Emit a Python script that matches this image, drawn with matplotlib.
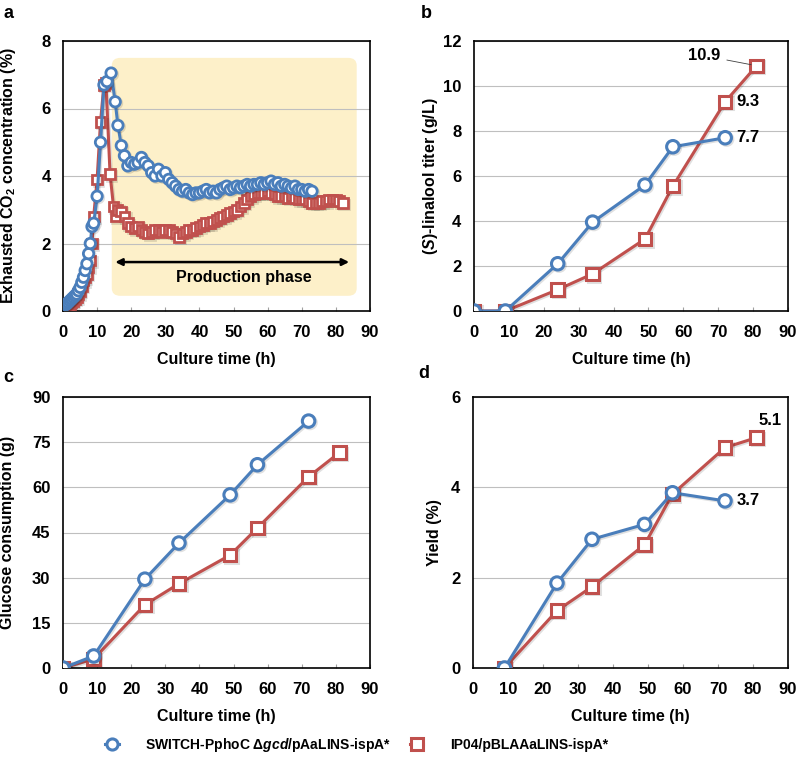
import matplotlib
matplotlib.use('Agg')
import matplotlib.pyplot as plt
import matplotlib.patheffects as pe
from matplotlib.patches import FancyBboxPatch
from matplotlib.lines import Line2D

plt.rcParams['font.family'] = ['Liberation Sans', 'DejaVu Sans']
plt.rcParams['font.weight'] = 'bold'
plt.rcParams['mathtext.fontset'] = 'custom'
plt.rcParams['mathtext.rm'] = 'Liberation Sans:bold'
plt.rcParams['mathtext.it'] = 'Liberation Sans:bold:italic'
plt.rcParams['mathtext.bf'] = 'Liberation Sans:bold'

BLUE = '#4A7EBB'
RED = '#C0504D'

# panel a: exhausted CO2 (%)
co2_t_blue = [0, 0.5, 1, 1.5, 2, 2.5, 3, 3.5, 4, 4.5, 5, 5.5, 6, 6.5, 7, 7.5, 8, 8.5, 9, 10, 11, 12, 12.9,
              14.1, 15.3, 16.1, 17.1, 18, 19, 20, 21, 22, 23, 24, 25, 26, 27, 28, 29, 30, 31, 32, 33, 34, 35,
              36, 37, 38, 39, 40, 41, 42, 43, 44, 45, 46, 47, 48, 49, 50, 51, 52, 53, 54, 55, 56, 57,
              58, 59, 60, 61, 62, 63, 64, 65, 66, 67, 68, 69, 70, 71, 72, 73]
co2_blue = [0.15, 0.18, 0.2, 0.25, 0.3, 0.35, 0.4, 0.45, 0.5, 0.6, 0.7, 0.85, 1.0, 1.2, 1.4, 1.7, 2.0, 2.5, 2.6, 3.4, 5.0, 6.7, 6.8,
            7.05, 6.2, 5.5, 4.9, 4.6, 4.3, 4.4, 4.35, 4.4, 4.55, 4.4, 4.3, 4.1, 4.0, 4.2, 4.0, 4.1, 3.9, 3.8, 3.7, 3.6, 3.55,
            3.6, 3.5, 3.45, 3.5, 3.5, 3.55, 3.6, 3.5, 3.55, 3.5, 3.6, 3.65, 3.7, 3.6, 3.65, 3.7, 3.65, 3.7, 3.75, 3.7, 3.75, 3.75,
            3.8, 3.75, 3.8, 3.85, 3.75, 3.8, 3.7, 3.75, 3.7, 3.65, 3.7, 3.6, 3.6, 3.55, 3.6, 3.55]
co2_t_red = [0, 0.5, 1, 1.5, 2, 2.5, 3, 3.5, 4, 4.5, 5, 5.5, 6, 6.5, 7, 7.5, 8, 8.5, 9, 10, 11, 12, 12.6,
             13.8, 14.8, 15.5, 16, 17, 18, 19, 20, 21, 22, 23, 24, 25, 26, 27, 28, 29, 30, 31, 32, 33, 34, 35,
             36, 37, 38, 39, 40, 41, 42, 43, 44, 45, 46, 47, 48, 49, 50, 51, 52, 53, 54, 55, 56, 57,
             58, 59, 60, 61, 62, 63, 64, 65, 66, 67, 68, 69, 70, 71, 72, 73, 74, 75, 76, 77, 78, 79, 80, 81, 82]
co2_red = [0.1, 0.12, 0.15, 0.18, 0.2, 0.25, 0.3, 0.35, 0.4, 0.5, 0.6, 0.75, 0.9, 1.0, 1.1, 1.3, 1.5, 2.0, 2.8, 3.9, 5.6, 6.7, 6.75,
           4.05, 3.1, 2.8, 3.0, 2.95, 2.8, 2.6, 2.5, 2.45, 2.5, 2.4, 2.35, 2.3, 2.35, 2.4, 2.4, 2.35, 2.4, 2.4, 2.35, 2.3, 2.2, 2.3,
           2.35, 2.4, 2.4, 2.45, 2.5, 2.55, 2.6, 2.6, 2.65, 2.7, 2.75, 2.8, 2.85, 2.9, 2.95, 3.0, 3.1, 3.2, 3.3, 3.4, 3.45, 3.5,
           3.5, 3.5, 3.55, 3.5, 3.45, 3.4, 3.4, 3.4, 3.35, 3.4, 3.35, 3.3, 3.3, 3.3, 3.25, 3.2, 3.2, 3.2, 3.25, 3.25, 3.3, 3.3, 3.3, 3.25, 3.2]

# panel b: (S)-linalool titer (g/L)
titer_t_blue = [0, 9, 24, 34, 49, 57, 72]
titer_blue = [0, 0, 2.1, 3.95, 5.6, 7.3, 7.7]
titer_t_red = [0, 9, 24, 34, 49, 57, 72, 81]
titer_red = [0, 0, 0.95, 1.65, 3.2, 5.55, 9.3, 10.9]

# panel c: glucose consumption (g)
glc_t_blue = [0, 9, 24, 34, 49, 57, 72]
glc_blue = [0, 4, 29.5, 41.5, 57.5, 67.5, 82]
glc_t_red = [0, 9, 24, 34, 49, 57, 72, 81]
glc_red = [0, 3, 21, 28, 37.5, 46.5, 63.5, 71.5]

# panel d: yield (%)
yld_t_blue = [9, 24, 34, 49, 57, 72]
yld_blue = [0, 1.88, 2.85, 3.18, 3.88, 3.7]
yld_t_red = [9, 24, 34, 49, 57, 72, 81]
yld_red = [0, 1.27, 1.8, 2.73, 3.85, 4.88, 5.1]

W, H = 797, 764
fig = plt.figure(figsize=(W / 100, H / 100), dpi=100)
FS = 12
SHADOW = [pe.SimpleLineShadow(offset=(1.0, -1.0), alpha=0.12), pe.Normal()]


def make_ax(l, r, t, b):
    return fig.add_axes([l / W, 1 - b / H, (r - l) / W, (b - t) / H])


def style(ax, ymax, ystep, ylabel):
    ax.set_xlim(0, 90)
    ax.set_ylim(0, ymax)
    ax.set_xticks(range(0, 91, 10))
    ax.set_yticks([ystep * i for i in range(int(round(ymax / ystep)) + 1)])
    ax.grid(axis='y', color='#BFBFBF', lw=0.8)
    ax.set_axisbelow(True)
    for s in ax.spines.values():
        s.set_color('black')
        s.set_linewidth(1.2)
    ax.tick_params(axis='x', direction='in', length=3, color='#A0A0A0', labelsize=FS, pad=10)
    ax.tick_params(axis='y', length=0, labelsize=FS, pad=9)
    for lab in ax.get_xticklabels() + ax.get_yticklabels():
        lab.set_fontweight('bold')
    ax.set_xlabel('Culture time (h)', fontsize=11.5, fontweight='bold', labelpad=9)
    ax.set_ylabel(ylabel, fontsize=11.5, fontweight='bold')


def series(ax, t, y, color, marker, ms=9, mew=2.2):
    ax.plot(t, y, color=color, lw=2.2, marker=marker, ms=ms, mfc='white', mec=color, mew=mew, zorder=3,
            path_effects=SHADOW)


# ---- a
axa = make_ax(63, 370, 41, 311)
style(axa, 8, 2, 'Exhausted CO$_2$ concentration (%)')
axa.add_patch(FancyBboxPatch((14.3, 0.45), 71.8, 7.05, boxstyle='round,pad=0,rounding_size=2.5',
                             mutation_aspect=0.09, fc='#FDF0C9', ec='none', zorder=0))
series(axa, co2_t_red, co2_red, RED, 's', ms=7, mew=2)
series(axa, co2_t_blue, co2_blue, BLUE, 'o', ms=7.5, mew=2)
axa.annotate('', xy=(84.7, 1.45), xytext=(14.5, 1.45),
             arrowprops=dict(arrowstyle='<|-|>', color='black', lw=1.8, mutation_scale=10))
axa.text(53, 1.0, 'Production phase', ha='center', va='center', fontsize=11.5, fontweight='bold')
axa.yaxis.set_label_coords(-0.147, 0.5)

# ---- b
axb = make_ax(474, 788, 41, 311)
style(axb, 12, 2, '($\\mathit{S}$)-linalool titer (g/L)')
series(axb, titer_t_red, titer_red, RED, 's')
series(axb, titer_t_blue, titer_blue, BLUE, 'o')
axb.annotate('10.9', xy=(titer_t_red[-1], titer_red[-1]), xytext=(70.5, 11.35), fontsize=FS, fontweight='bold',
             ha='right', va='center',
             arrowprops=dict(arrowstyle='-', color='#404040', lw=0.6, shrinkA=3, shrinkB=4))
axb.text(titer_t_red[-2] + 3.3, titer_red[-2], '9.3', fontsize=FS, fontweight='bold', va='center')
axb.text(titer_t_blue[-1] + 3.3, titer_blue[-1], '7.7', fontsize=FS, fontweight='bold', va='center')
axb.yaxis.set_label_coords(-0.108, 0.5)

# ---- c
axc = make_ax(63, 370, 397, 668)
style(axc, 90, 15, 'Glucose consumption (g)')
series(axc, glc_t_red, glc_red, RED, 's')
series(axc, glc_t_blue, glc_blue, BLUE, 'o')
axc.yaxis.set_label_coords(-0.155, 0.5)

# ---- d
axd = make_ax(473, 788, 397, 668)
style(axd, 6, 2, 'Yield (%)')
series(axd, yld_t_red, yld_red, RED, 's')
series(axd, yld_t_blue, yld_blue, BLUE, 'o')
axd.text(yld_t_blue[-1] + 3.3, yld_blue[-1], '3.7', fontsize=FS, fontweight='bold', va='center')
axd.text(yld_t_red[-1] + 0.5, yld_red[-1] + 0.38, '5.1', fontsize=FS, fontweight='bold', va='center')
axd.yaxis.set_label_coords(-0.098, 0.5)

# panel letters
for lab, x, y in [('a', 3, 13), ('b', 421, 13), ('c', 3, 377), ('d', 418, 373)]:
    fig.text(x / W, 1 - y / H, lab, fontsize=13, fontweight='bold', ha='left', va='center')

# legend
h1 = Line2D([], [], color=BLUE, lw=2.2, marker='o', ms=8, mfc='white', mec=BLUE, mew=2.2)
h2 = Line2D([], [], color=RED, lw=2.2, marker='s', ms=8, mfc='white', mec=RED, mew=2.2)
fig.legend([h1, h2], ['SWITCH-PphoC Δ$\\mathit{gcd}$/pAaLINS-ispA*', 'IP04/pBLAAaLINS-ispA*'],
           loc='center left', bbox_to_anchor=(105 / W, 1 - 745 / H), ncol=2, frameon=False,
           handlelength=1.0, handletextpad=1.9, columnspacing=1.3, borderaxespad=0, borderpad=0,
           prop={'weight': 'bold', 'size': 10})

fig.savefig('out.png', dpi=100)
